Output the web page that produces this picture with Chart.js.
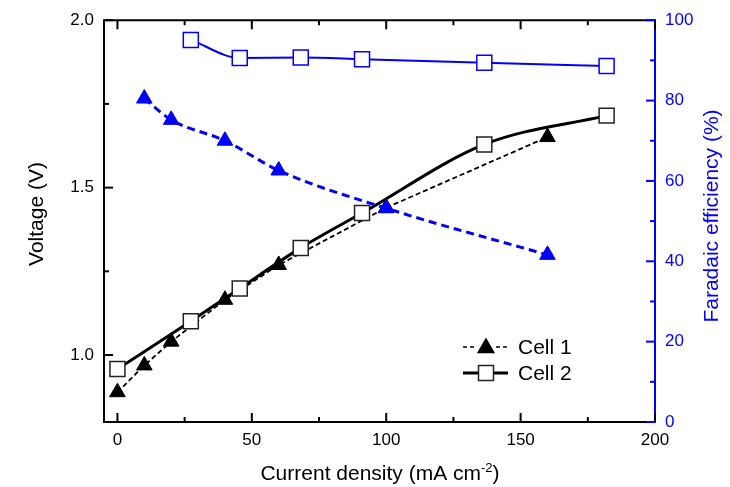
<!DOCTYPE html>
<html>
<head>
<meta charset="utf-8">
<script src="https://cdn.jsdelivr.net/npm/chart.js@4"></script>
<style>
  html, body { margin: 0; padding: 0; background: #fff; }
  #wrap { width: 730px; height: 487px; }
</style>
</head>
<body>
<div id="wrap"><canvas id="c"></canvas></div>
<script>
// Cell 1 (triangles) and Cell 2 (squares)
const xCell1 = [0, 10, 20, 40, 60, 100, 160];
const vCell1 = [0.889, 0.969, 1.04, 1.165, 1.269, 1.44, 1.651];
const xCell2 = [0, 27.3, 45.5, 68.2, 91, 136.5, 182];
const vCell2 = [0.958, 1.101, 1.199, 1.32, 1.424, 1.629, 1.715];

// faradaic efficiency, right axis
const xFE1 = [10, 20, 40, 60, 100, 160];
const fe1 = [80.5, 75.2, 70, 62.6, 53.2, 41.6];
const xFE2 = [27.3, 45.5, 68.2, 91, 136.5, 182];
const fe2 = [95.1, 90.6, 90.7, 90.3, 89.4, 88.6];

// tick values (majors get labels)
const xTicks = [0, 25, 50, 75, 100, 125, 150, 175, 200];
const yTicks = [1.0, 1.25, 1.5, 1.75, 2.0];
const y1Ticks = [0, 10, 20, 30, 40, 50, 60, 70, 80, 90, 100];

const labels = ["Cell 1", "Cell 2"];

const FONT = "'Liberation Sans', Arial, sans-serif";
const BLUE = "#0000ff";

const pts = (xs, ys) => xs.map((x, i) => ({ x: x, y: ys[i] }));

const isMajor = (v, step) => Math.abs(v / step - Math.round(v / step)) < 1e-6;

const setTicks = vals => s => { s.ticks = vals.map(v => ({ value: v })); };

const framePlugin = {
  id: "frame",
  afterDraw(chart) {
    const ctx = chart.ctx;
    const ca = chart.chartArea;
    const sx = chart.scales.x, sy = chart.scales.y, sy1 = chart.scales.y1;
    ctx.save();
    ctx.lineWidth = 2;
    ctx.lineCap = "square";

    // frame
    ctx.strokeStyle = "#000";
    ctx.beginPath();
    ctx.moveTo(ca.right, ca.top);
    ctx.lineTo(ca.left, ca.top);
    ctx.lineTo(ca.left, ca.bottom);
    ctx.lineTo(ca.right, ca.bottom);
    ctx.stroke();
    ctx.strokeStyle = BLUE;
    ctx.beginPath();
    ctx.moveTo(ca.right, ca.top);
    ctx.lineTo(ca.right, ca.bottom);
    ctx.stroke();

    ctx.lineCap = "butt";
    // inward ticks
    ctx.strokeStyle = "#000";
    sx.ticks.forEach(t => {
      const px = sx.getPixelForValue(t.value);
      const len = isMajor(t.value, 50) ? 9 : 5;
      ctx.beginPath();
      ctx.moveTo(px, ca.bottom);
      ctx.lineTo(px, ca.bottom - len);
      ctx.moveTo(px, ca.top);
      ctx.lineTo(px, ca.top + len);
      ctx.stroke();
    });
    sy.ticks.forEach(t => {
      const py = sy.getPixelForValue(t.value);
      const len = isMajor(t.value, 0.5) ? 9 : 5;
      ctx.beginPath();
      ctx.moveTo(ca.left, py);
      ctx.lineTo(ca.left + len, py);
      ctx.stroke();
    });
    ctx.strokeStyle = BLUE;
    sy1.ticks.forEach(t => {
      const py = sy1.getPixelForValue(t.value);
      const len = isMajor(t.value, 20) ? 9 : 5;
      ctx.beginPath();
      ctx.moveTo(ca.right, py);
      ctx.lineTo(ca.right - len, py);
      ctx.stroke();
    });

    // axis titles
    ctx.fillStyle = "#000";
    ctx.font = "21px " + FONT;
    ctx.textAlign = "center";
    ctx.textBaseline = "middle";
    ctx.save();
    ctx.translate(37, 214);
    ctx.rotate(-Math.PI / 2);
    ctx.fillText("Voltage (V)", 0, 0);
    ctx.restore();

    ctx.fillStyle = BLUE;
    ctx.save();
    ctx.translate(712, 216);
    ctx.rotate(-Math.PI / 2);
    ctx.fillText("Faradaic efficiency (%)", 0, 0);
    ctx.restore();

    // x title with superscript
    ctx.fillStyle = "#000";
    ctx.textAlign = "left";
    ctx.textBaseline = "alphabetic";
    const a = "Current density (mA cm", sup = "-2", b = ")";
    ctx.font = "21px " + FONT;
    const wa = ctx.measureText(a).width, wb = ctx.measureText(b).width;
    ctx.font = "13px " + FONT;
    const ws = ctx.measureText(sup).width;
    let x0 = 380 - (wa + ws + wb) / 2;
    const base = 480;
    ctx.font = "21px " + FONT;
    ctx.fillText(a, x0, base);
    ctx.font = "13px " + FONT;
    ctx.fillText(sup, x0 + wa, base - 8);
    ctx.font = "21px " + FONT;
    ctx.fillText(b, x0 + wa + ws, base);

    // legend
    const lx = 463, mx = 486, rx = 508;
    const rows = [347, 373];
    ctx.strokeStyle = "#000";
    ctx.lineWidth = 1.5;
    ctx.setLineDash([4, 3]);
    ctx.beginPath();
    ctx.moveTo(lx, rows[0]); ctx.lineTo(mx - 10, rows[0]);
    ctx.moveTo(mx + 10, rows[0]); ctx.lineTo(rx, rows[0]);
    ctx.stroke();
    ctx.setLineDash([]);
    ctx.fillStyle = "#000";
    Chart.helpers.drawPoint(ctx, { pointStyle: "triangle", radius: 9, rotation: 0, borderWidth: 1 }, mx, rows[0] + 1);
    ctx.fill();

    ctx.lineWidth = 3;
    ctx.beginPath();
    ctx.moveTo(lx, rows[1]); ctx.lineTo(mx - 8, rows[1]);
    ctx.moveTo(mx + 8, rows[1]); ctx.lineTo(rx, rows[1]);
    ctx.stroke();
    ctx.lineWidth = 1.5;
    ctx.strokeStyle = "#222";
    ctx.fillStyle = "#fff";
    ctx.fillRect(mx - 7.5, rows[1] - 7.5, 15, 15);
    ctx.strokeRect(mx - 7.5, rows[1] - 7.5, 15, 15);

    ctx.fillStyle = "#000";
    ctx.font = "21px " + FONT;
    ctx.textBaseline = "middle";
    ctx.fillText(labels[0], 518, rows[0] + 1);
    ctx.fillText(labels[1], 518, rows[1] + 1);
    ctx.restore();
  }
};

new Chart(document.getElementById("c"), {
  type: "line",
  data: {
    datasets: [
      {
        label: labels[0],
        data: pts(xCell1, vCell1),
        yAxisID: "y",
        borderColor: "#000",
        borderWidth: 1.8,
        borderDash: [5, 3],
        tension: 0,
        pointStyle: "triangle",
        pointRadius: 9,
        pointBackgroundColor: "#000",
        pointBorderColor: "#000",
        pointBorderWidth: 1,
        order: 2
      },
      {
        label: labels[1],
        data: pts(xCell2, vCell2),
        yAxisID: "y",
        borderColor: "#000",
        borderWidth: 3,
        cubicInterpolationMode: "monotone",
        pointStyle: "rect",
        pointRadius: 10.6,
        pointBackgroundColor: "#fff",
        pointBorderColor: "#222",
        pointBorderWidth: 1.5,
        order: 1
      },
      {
        label: "FE " + labels[0],
        data: pts(xFE1, fe1),
        yAxisID: "y1",
        borderColor: BLUE,
        borderWidth: 3,
        borderDash: [8, 5],
        cubicInterpolationMode: "monotone",
        pointStyle: "triangle",
        pointRadius: 9,
        pointBackgroundColor: BLUE,
        pointBorderColor: BLUE,
        pointBorderWidth: 1,
        order: 0
      },
      {
        label: "FE " + labels[1],
        data: pts(xFE2, fe2),
        yAxisID: "y1",
        borderColor: BLUE,
        borderWidth: 2,
        cubicInterpolationMode: "monotone",
        pointStyle: "rect",
        pointRadius: 10.6,
        pointBackgroundColor: "#fff",
        pointBorderColor: BLUE,
        pointBorderWidth: 1.5,
        order: 0
      }
    ]
  },
  options: {
    responsive: true,
    maintainAspectRatio: false,
    animation: false,
    layout: { padding: { top: 16, left: 0, right: 0, bottom: 0 } },
    plugins: {
      legend: { display: false },
      tooltip: { enabled: false }
    },
    scales: {
      x: {
        type: "linear",
        min: -5,
        max: 200,
        grid: { display: false, drawTicks: false },
        border: { display: false },
        afterBuildTicks: setTicks(xTicks),
        ticks: {
          autoSkip: false,
          maxRotation: 0,
          padding: 8,
          color: "#000",
          font: { family: FONT, size: 17 },
          callback: v => isMajor(v, 50) ? String(v) : ""
        },
        afterFit: s => { s.height = 65; }
      },
      y: {
        position: "left",
        min: 0.8,
        max: 2.0,
        grid: { display: false, drawTicks: false },
        border: { display: false },
        afterBuildTicks: setTicks(yTicks),
        ticks: {
          autoSkip: false,
          padding: 10,
          color: "#000",
          font: { family: FONT, size: 17 },
          callback: v => isMajor(v, 0.5) ? v.toFixed(1) : ""
        },
        afterFit: s => { s.width = 104; }
      },
      y1: {
        position: "right",
        min: 0,
        max: 100,
        grid: { display: false, drawTicks: false },
        border: { display: false },
        afterBuildTicks: setTicks(y1Ticks),
        ticks: {
          autoSkip: false,
          padding: 10,
          color: BLUE,
          font: { family: FONT, size: 17 },
          callback: v => isMajor(v, 20) ? String(v) : ""
        },
        afterFit: s => { s.width = 75; }
      }
    }
  },
  plugins: [framePlugin]
});
</script>
</body>
</html>
